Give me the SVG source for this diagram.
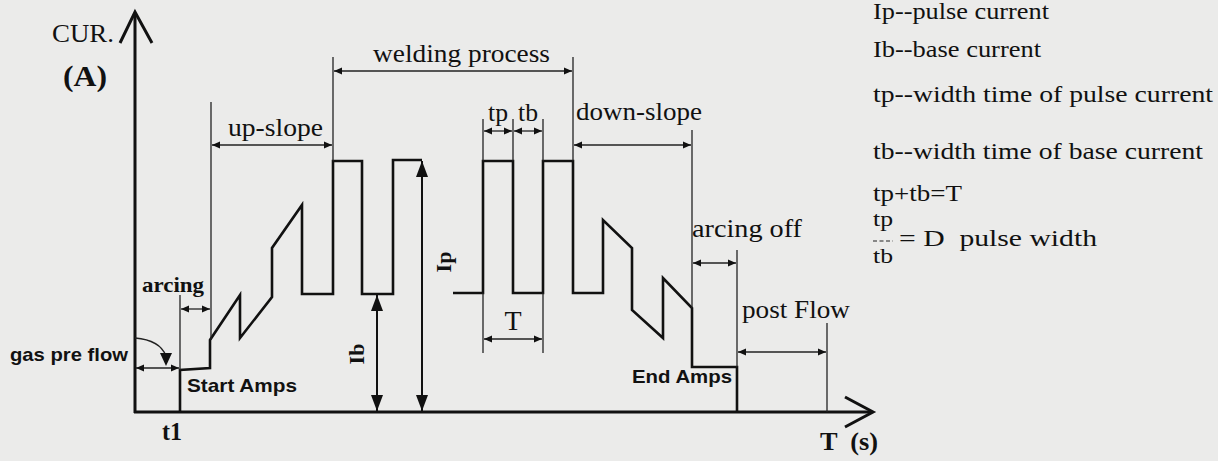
<svg xmlns="http://www.w3.org/2000/svg" width="1218" height="461" viewBox="0 0 1218 461">
  <style>
    .serif { font-family: "Liberation Serif", "Times New Roman", serif; fill: #111; }
    .bserif { font-family: "Liberation Serif", "Times New Roman", serif; font-weight: bold; fill: #111; }
    .bsans { font-family: "Liberation Sans", Arial, sans-serif; font-weight: bold; fill: #111; }
    .axis { stroke: #111; stroke-width: 3; fill: none; }
    .wave { stroke: #111; stroke-width: 2.6; fill: none; stroke-linejoin: miter; }
    .thin { stroke: #222; stroke-width: 1.3; fill: none; }
    .dim { stroke: #222; stroke-width: 1.3; fill: none; marker-start: url(#ah); marker-end: url(#ah); }
    .big { stroke: #111; stroke-width: 2; fill: none; marker-start: url(#bh); marker-end: url(#bh); }
    .pre { white-space: pre; }
  </style>
  <defs>
    <marker id="ah" markerUnits="userSpaceOnUse" markerWidth="9" markerHeight="8" refX="8" refY="4" orient="auto-start-reverse">
      <path d="M0,0.5 L8,4 L0,7.5 z" fill="#111"/>
    </marker>
    <marker id="bh" markerUnits="userSpaceOnUse" markerWidth="17" markerHeight="13" refX="16" refY="6.5" orient="auto-start-reverse">
      <path d="M0,0.5 L16,6.5 L0,12.5 z" fill="#111"/>
    </marker>
  </defs>
  <rect x="0" y="0" width="1218" height="461" fill="#ebebea"/>

  <g id="axes">
    <line class="axis" x1="135" y1="13" x2="135" y2="413"/>
    <polyline class="axis" stroke-width="2" points="120,43 135,12 152,43"/>
    <line class="axis" x1="134" y1="412" x2="872" y2="412"/>
    <polyline class="axis" stroke-width="2" points="845,397 873,412 845,427"/>
    <text class="serif" x="52" y="42" font-size="26" textLength="62" lengthAdjust="spacingAndGlyphs">CUR.</text>
    <text class="bserif" x="63" y="86" font-size="29" textLength="44" lengthAdjust="spacingAndGlyphs">(A)</text>
    <text class="bserif pre" x="820" y="450" font-size="25" textLength="58" lengthAdjust="spacingAndGlyphs">T  (s)</text>
    <text class="bserif" x="162" y="440" font-size="25" textLength="20" lengthAdjust="spacingAndGlyphs">t1</text>
  </g>

  <g id="waveform">
    <polyline class="wave" points="180,412 180,370 210,368 210,340 240,295 240,338 272,297 272,248 302,205 302,294 333,294 333,161 362,161 362,294 393,294 393,160 422,160"/>
    <polyline class="wave" points="453,293 483,293 483,161 513,161 513,293 543,293 543,161 573,161 573,293 603,293 603,220 632,248 632,310 663,338 663,278 692,308 692,367 737,367 737,412"/>
  </g>

  <g id="connectors">
    <line class="thin" x1="180" y1="295" x2="180" y2="370"/>
    <line class="thin" x1="211" y1="102" x2="211" y2="340"/>
    <line class="thin" x1="333" y1="57" x2="333" y2="161"/>
    <line class="thin" x1="573" y1="57" x2="573" y2="161"/>
    <line class="thin" x1="483" y1="119" x2="483" y2="161"/>
    <line class="thin" x1="513" y1="119" x2="513" y2="161"/>
    <line class="thin" x1="543" y1="119" x2="543" y2="161"/>
    <line class="thin" x1="483" y1="293" x2="483" y2="353"/>
    <line class="thin" x1="543" y1="293" x2="543" y2="353"/>
    <line class="thin" x1="692" y1="130" x2="692" y2="308"/>
    <line class="thin" x1="737" y1="250" x2="737" y2="367"/>
    <line class="thin" x1="827" y1="323" x2="827" y2="412"/>
    <line class="dim" x1="334" y1="71" x2="572" y2="71"/>
    <line class="dim" x1="212" y1="145" x2="332" y2="145"/>
    <line class="dim" x1="484" y1="131" x2="512" y2="131"/>
    <line class="dim" x1="514" y1="131" x2="542" y2="131"/>
    <line class="dim" x1="574" y1="145" x2="691" y2="145"/>
    <line class="dim" x1="484" y1="339" x2="542" y2="339"/>
    <line class="dim" x1="181" y1="309" x2="210" y2="309"/>
    <line class="dim" x1="136" y1="368" x2="179" y2="368"/>
    <line class="dim" x1="693" y1="263" x2="736" y2="263"/>
    <line class="dim" x1="738" y1="352" x2="826" y2="352"/>
    <line class="big" x1="422" y1="161" x2="422" y2="411"/>
    <line class="big" x1="377" y1="295" x2="377" y2="411"/>
    <path class="thin" d="M135,338 Q160,340 166,356"/>
    <polygon points="160,353 172,353 166,366" fill="#111"/>
  </g>

  <g id="labels">
    <text class="serif" x="373" y="62" font-size="25" textLength="177" lengthAdjust="spacingAndGlyphs">welding process</text>
    <text class="serif" x="228" y="136" font-size="25" textLength="95" lengthAdjust="spacingAndGlyphs">up-slope</text>
    <text class="serif" x="488" y="121" font-size="25" textLength="20" lengthAdjust="spacingAndGlyphs">tp</text>
    <text class="serif" x="518" y="121" font-size="25" textLength="20" lengthAdjust="spacingAndGlyphs">tb</text>
    <text class="serif" x="576" y="120" font-size="25" textLength="126" lengthAdjust="spacingAndGlyphs">down-slope</text>
    <text class="serif" x="513" y="330" font-size="28" text-anchor="middle">T</text>
    <text class="serif" x="692" y="237" font-size="25" textLength="110" lengthAdjust="spacingAndGlyphs">arcing off</text>
    <text class="serif" x="742" y="318" font-size="25" textLength="108" lengthAdjust="spacingAndGlyphs">post Flow</text>
    <text class="bserif" x="142" y="292" font-size="22" textLength="62" lengthAdjust="spacingAndGlyphs">arcing</text>
    <text class="bsans" x="10" y="361" font-size="19" textLength="118" lengthAdjust="spacingAndGlyphs">gas pre flow</text>
    <text class="bsans" x="187" y="392" font-size="19" textLength="110" lengthAdjust="spacingAndGlyphs">Start Amps</text>
    <text class="bsans" x="632" y="383" font-size="19" textLength="100" lengthAdjust="spacingAndGlyphs">End Amps</text>
    <text class="bserif" transform="translate(451,262) rotate(-90)" font-size="22" text-anchor="middle">Ip</text>
    <text class="bserif" transform="translate(364,354) rotate(-90)" font-size="22" text-anchor="middle">Ib</text>
  </g>

  <g id="legend">
    <text class="serif" x="873" y="19" font-size="24" textLength="176" lengthAdjust="spacingAndGlyphs">Ip--pulse current</text>
    <text class="serif" x="873" y="57" font-size="24" textLength="168" lengthAdjust="spacingAndGlyphs">Ib--base current</text>
    <text class="serif" x="873" y="102" font-size="24" textLength="340" lengthAdjust="spacingAndGlyphs">tp--width time of pulse current</text>
    <text class="serif" x="873" y="159" font-size="24" textLength="330" lengthAdjust="spacingAndGlyphs">tb--width time of base current</text>
    <text class="serif" x="873" y="201" font-size="24" textLength="89" lengthAdjust="spacingAndGlyphs">tp+tb=T</text>
    <text class="serif" x="873" y="226" font-size="22" textLength="20" lengthAdjust="spacingAndGlyphs">tp</text>
    <line x1="873" y1="241" x2="893" y2="241" stroke="#222" stroke-width="1.2" stroke-dasharray="4,2.5"/>
    <text class="serif" x="873" y="263" font-size="22" textLength="20" lengthAdjust="spacingAndGlyphs">tb</text>
    <text class="serif pre" x="899" y="246" font-size="24" textLength="198" lengthAdjust="spacingAndGlyphs">= D  pulse width</text>
  </g>
</svg>
